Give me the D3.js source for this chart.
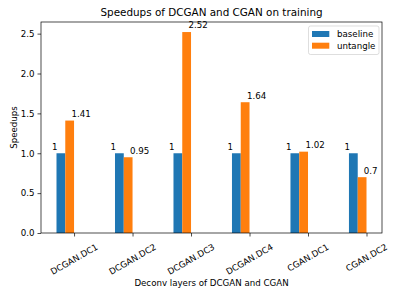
<!DOCTYPE html>
<html>
<head>
<meta charset="utf-8">
<script src="https://cdn.jsdelivr.net/npm/d3@7"></script>
<style>
  body { margin: 0; background: #fff; }
  svg { display: block; font-family: "DejaVu Sans", sans-serif; }
</style>
</head>
<body>
<div id="chart"></div>
<script>

// Chart data.
const categories = ['DCGAN.DC1', 'DCGAN.DC2', 'DCGAN.DC3', 'DCGAN.DC4', 'CGAN.DC1', 'CGAN.DC2'];
const baseline = [1, 1, 1, 1, 1, 1];
const untangle = [1.41, 0.95, 2.52, 1.64, 1.02, 0.7];
const yTicks = [0, 0.5, 1.0, 1.5, 2.0, 2.5];
const seriesNames = ['baseline', 'untangle'];
const colors = ['#1f77b4', '#ff7f0e'];

const W = 399, H = 299;
const plot = { left: 41, right: 382, top: 22, bottom: 233 };
const barW = 0.15;
const fs = 8.66;

const svg = d3.select('#chart').append('svg')
  .attr('width', W)
  .attr('height', H);

// Scales, matplotlib style 5% margins.
const xMin = -barW / 2, xMax = categories.length - 1 + barW * 1.5;
const xPad = (xMax - xMin) * 0.05;
const x = d3.scaleLinear()
  .domain([xMin - xPad, xMax + xPad])
  .range([plot.left, plot.right]);

const yMax = d3.max(untangle.concat(baseline)) * 1.05;
const y = d3.scaleLinear()
  .domain([0, yMax])
  .range([plot.bottom, plot.top]);

// Bars.
const series = [baseline, untangle];
series.forEach((vals, s) => {
  svg.append('g').selectAll('rect')
    .data(vals)
    .join('rect')
    .attr('x', (d, i) => x(i - barW / 2 + s * barW))
    .attr('y', d => y(d))
    .attr('width', (d, i) => x(i + barW / 2) - x(i - barW / 2))
    .attr('height', d => y(0) - y(d))
    .attr('fill', colors[s]);
});

// Value labels.
const labelGroup = svg.append('g').attr('font-size', fs).attr('fill', '#000');
labelGroup.selectAll('text.b')
  .data(baseline)
  .join('text')
  .attr('class', 'b')
  .attr('x', (d, i) => x(i - 0.15))
  .attr('y', d => y(d + 0.045))
  .text(d => String(d));
labelGroup.selectAll('text.u')
  .data(untangle)
  .join('text')
  .attr('class', 'u')
  .attr('x', (d, i) => x(i + 0.18))
  .attr('y', d => y(d + 0.045))
  .text(d => String(d));

// Y axis.
const yAxis = svg.append('g')
  .attr('transform', `translate(${plot.left},0)`)
  .call(d3.axisLeft(y).tickValues(yTicks).tickFormat(d3.format('.1f')).tickSize(3.5).tickPadding(3));
yAxis.select('.domain').remove();
yAxis.selectAll('text').attr('font-size', fs).attr('font-family', 'DejaVu Sans').attr('fill', '#000');
yAxis.selectAll('line').attr('stroke', '#000').attr('stroke-width', 0.7);

// X axis.
const tickPos = categories.map((c, i) => i + barW * 1.5);
const xAxis = svg.append('g')
  .attr('transform', `translate(0,${plot.bottom})`)
  .call(d3.axisBottom(x).tickValues(tickPos).tickFormat('').tickSize(3.5));
xAxis.select('.domain').remove();
xAxis.selectAll('line').attr('stroke', '#000').attr('stroke-width', 0.7);

// Rotated category labels, centered under ticks.
const xl = svg.append('g').attr('font-size', fs).attr('fill', '#000');
categories.forEach((c, i) => {
  const t = xl.append('text')
    .attr('text-anchor', 'middle')
    .attr('dominant-baseline', 'central')
    .text(c);
  const w = t.node().getComputedTextLength();
  const bh = w * Math.sin(Math.PI / 6) + fs * 1.1 * Math.cos(Math.PI / 6);
  const cy = plot.bottom + 9 + bh / 2;
  t.attr('transform', `translate(${x(tickPos[i])},${cy}) rotate(-30)`);
});

// Frame.
svg.append('rect')
  .attr('x', plot.left)
  .attr('y', plot.top)
  .attr('width', plot.right - plot.left)
  .attr('height', plot.bottom - plot.top)
  .attr('fill', 'none')
  .attr('stroke', '#000')
  .attr('stroke-width', 0.7);

// Title and axis labels.
const midX = (plot.left + plot.right) / 2;
svg.append('text')
  .attr('x', midX)
  .attr('y', 16)
  .attr('text-anchor', 'middle')
  .attr('font-size', 10.4)
  .text('Speedups of DCGAN and CGAN on training');

svg.append('text')
  .attr('x', midX)
  .attr('y', 286)
  .attr('text-anchor', 'middle')
  .attr('font-size', fs)
  .text('Deconv layers of DCGAN and CGAN');

svg.append('text')
  .attr('transform', `translate(17,${(plot.top + plot.bottom) / 2}) rotate(-90)`)
  .attr('text-anchor', 'middle')
  .attr('font-size', fs)
  .text('Speedups');

// Legend.
const legend = svg.append('g').attr('transform', 'translate(308.5,26)');
legend.append('rect')
  .attr('width', 70.5)
  .attr('height', 28.5)
  .attr('rx', 2)
  .attr('fill', '#fff')
  .attr('fill-opacity', 0.8)
  .attr('stroke', '#d0d0d0')
  .attr('stroke-width', 0.7);
seriesNames.forEach((name, s) => {
  const row = legend.append('g').attr('transform', `translate(3.5,${5 + s * 11.7})`);
  row.append('rect')
    .attr('width', 17.3)
    .attr('height', 6)
    .attr('fill', colors[s]);
  row.append('text')
    .attr('x', 25)
    .attr('y', 6)
    .attr('font-size', fs)
    .text(name);
});

</script>
</body>
</html>
